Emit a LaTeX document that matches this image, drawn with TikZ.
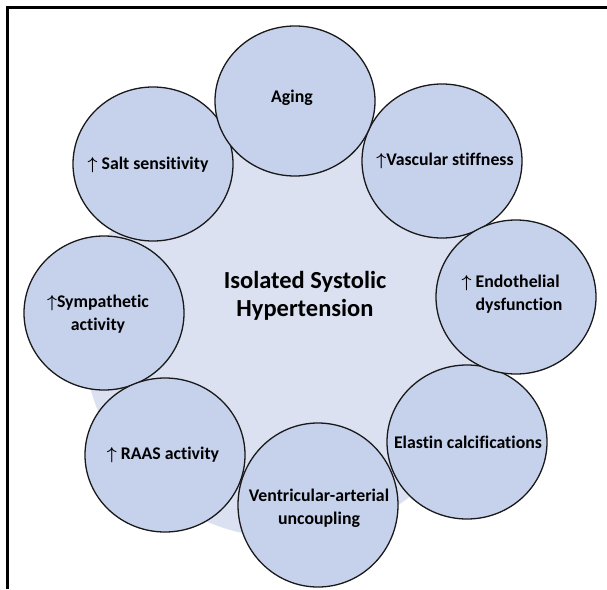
\documentclass[tikz,border=0pt]{standalone}
\usepackage{fontspec}
\setmainfont[Ligatures=NoCommon]{Carlito}
\usetikzlibrary{shapes.geometric}
\definecolor{bubfill}{HTML}{C6D1EC}
\definecolor{bgfill}{HTML}{DBE1F0}
\tikzset{
  bub/.style={ellipse, draw=black!90, line width=1.3pt, fill=bubfill,
    minimum width=160pt, minimum height=154pt, inner sep=0pt},
  lbl/.style={font=\bfseries\fontsize{17.8}{23}\selectfont, text=black, align=center, inner sep=0pt},
  ttl/.style={font=\bfseries\fontsize{24.5}{28}\selectfont, text=black, align=center, inner sep=0pt},
  frameline/.style={line width=3pt, black}
}
\newcommand{\upar}{$\boldsymbol{\uparrow}$}
\usepackage{amsmath}
\begin{document}
\begin{tikzpicture}[x=1pt,y=-1pt]
  \useasboundingbox (0,0) rectangle (607,589);
  % frame
  \coordinate (fbl) at (7.5,589);
  \coordinate (ftl) at (7.5,7.5);
  \coordinate (ftr) at (607,7.5);
  \draw[frameline] (fbl) -- (ftl) -- (ftr);
  % background circle
  \node[circle, fill=bgfill, minimum size=408pt, inner sep=0pt] (bg) at (287,334) {};
  % bubbles
  \node[bub] (salt) at (153,164) {};
  \node[bub] (vasc) at (442,161) {};
  \node[bub] (symp) at (104,313) {};
  \node[bub] (elas) at (467,442) {};
  \node[bub] (raas) at (165,455) {};
  \node[bub] (endo) at (516,297) {};
  \node[bub, minimum height=164pt] (vent) at (318,505) {};
  \node[bub, minimum height=150pt] (aging) at (295,101) {};
  % labels
  \node[lbl] (taging) at (292,98) {Aging};
  \node[lbl] (tsalt) at (148,165) {\upar\ Salt sensitivity};
  \node[lbl] (tvasc) at (445,161) {\upar Vascular stiffness};
  \node[lbl, align=left] (tendo) at (512,294) {\upar\ Endothelial\\\hphantom{\upar\ }dysfunction};
  \node[lbl] (tsymp) at (98,314) {\upar Sympathetic\\activity};
  \node[lbl] (traas) at (163,455) {\upar\ RAAS activity};
  \node[lbl] (telas) at (468,442) {Elastin calcifications};
  \node[lbl] (tvent) at (319,508) {Ventricular-arterial\\uncoupling};
  \node[ttl] (title) at (305,296) {Isolated Systolic\\Hypertension};
\end{tikzpicture}
\end{document}
